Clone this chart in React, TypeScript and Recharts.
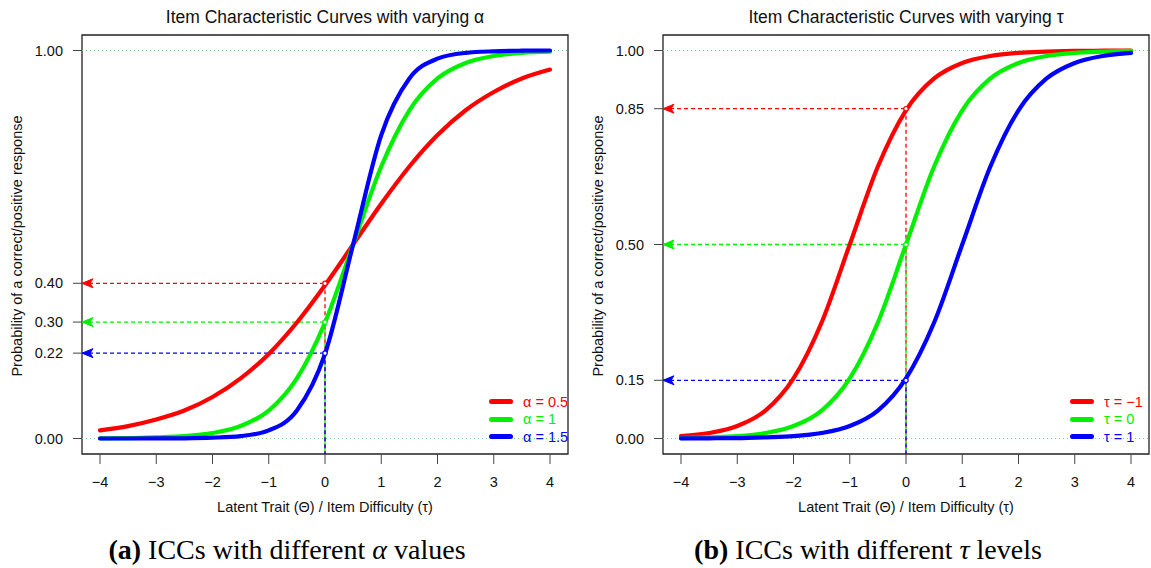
import {
  Legend,
  Line,
  LineChart,
  ReferenceArea,
  ReferenceDot,
  ReferenceLine,
  XAxis,
  YAxis,
} from "recharts";

// ability / difficulty grid shared by both panels
const THETA = [-4, -3.5, -3, -2.5, -2, -1.5, -1, -0.5, 0, 0.5, 1, 1.5, 2, 2.5, 3, 3.5, 4];

// panel (a): varying discrimination
const ALPHA_LOW = [0.021, 0.032, 0.049, 0.072, 0.107, 0.155, 0.218, 0.299, 0.395, 0.5, 0.605, 0.701, 0.782, 0.846, 0.893, 0.928, 0.951];
const ALPHA_MID = [0.0005, 0.001, 0.003, 0.006, 0.014, 0.032, 0.072, 0.155, 0.299, 0.5, 0.701, 0.846, 0.928, 0.968, 0.986, 0.994, 0.997];
const ALPHA_HIGH = [0, 0, 0.0001, 0.0005, 0.002, 0.006, 0.021, 0.072, 0.218, 0.5, 0.782, 0.928, 0.979, 0.994, 0.998, 0.9995, 1];
const ALPHA_LABELS = ["α = 0.5", "α = 1", "α = 1.5"];
const ALPHA_Y_TICKS = [0, 0.22, 0.3, 0.4, 1];
const ALPHA_MARKS = [0.4, 0.3, 0.22];

// panel (b): varying difficulty
const TAU_NEG = [0.006, 0.014, 0.032, 0.072, 0.155, 0.299, 0.5, 0.701, 0.846, 0.928, 0.968, 0.986, 0.994, 0.997, 0.999, 0.9995, 0.9998];
const TAU_ZERO = [0.001, 0.003, 0.006, 0.014, 0.032, 0.072, 0.155, 0.299, 0.5, 0.701, 0.846, 0.928, 0.968, 0.986, 0.994, 0.997, 0.999];
const TAU_POS = [0.0002, 0.0005, 0.001, 0.003, 0.006, 0.014, 0.032, 0.072, 0.155, 0.299, 0.5, 0.701, 0.846, 0.928, 0.968, 0.986, 0.994];
const TAU_LABELS = ["τ = −1", "τ = 0", "τ = 1"];
const TAU_Y_TICKS = [0, 0.15, 0.5, 0.85, 1];
const TAU_MARKS = [0.85, 0.5, 0.15];

const X_TICKS = [-4, -3, -2, -1, 0, 1, 2, 3, 4];
const X_LABEL = "Latent Trait (Θ) / Item Difficulty (τ)";
const Y_LABEL = "Probability of a correct/positive response";

const COLORS = ["#ff0000", "#00f000", "#0000ff"];
const X_DOMAIN: [number, number] = [-4.32, 4.32];
const Y_DOMAIN: [number, number] = [-0.04, 1.04];
const SANS = "'Liberation Sans', Arial, Helvetica, sans-serif";
const SERIF = "'Liberation Serif', 'Times New Roman', serif";
const FONT = 14.5;

type PanelProps = {
  left: number;
  width: number;
  plotLeft: number;
  series: number[][];
  labels: string[];
  yTicks: number[];
  marks: number[];
};

const arrowHead = (color: string) => (props: any) => {
  const { cx, cy } = props;
  return (
    <path
      d={`M${cx},${cy} L${cx + 11},${cy - 4.5} L${cx + 8},${cy} L${cx + 11},${cy + 4.5} Z`}
      fill={color}
      stroke={color}
      strokeWidth={1}
    />
  );
};

const legendContent = (labels: string[]) => () => (
  <div style={{ fontFamily: SANS, fontSize: FONT }}>
    {labels.map((label, i) => (
      <div key={label} style={{ display: "flex", alignItems: "center", height: 17.5, whiteSpace: "nowrap" }}>
        <span style={{ width: 24, height: 5, background: COLORS[i], borderRadius: 2.5 }} />
        <span style={{ marginLeft: 10, color: COLORS[i] }}>{label}</span>
      </div>
    ))}
  </div>
);

function Panel({ left, width, plotLeft, series, labels, yTicks, marks }: PanelProps) {
  const data = THETA.map((x, i) => ({ x, s0: series[0][i], s1: series[1][i], s2: series[2][i] }));
  const yAxisWidth = 60;
  return (
    <div style={{ position: "absolute", left, top: 0 }}>
      <LineChart
        width={width}
        height={568}
        data={data}
        margin={{ top: 35, right: width - plotLeft - 486, bottom: 74, left: plotLeft - yAxisWidth }}
      >
        <XAxis
          dataKey="x"
          type="number"
          domain={X_DOMAIN}
          ticks={X_TICKS}
          interval={0}
          allowDataOverflow
          axisLine={false}
          tickSize={10}
          tickMargin={13}
          height={40}
          tick={{ fontSize: FONT, fill: "#111" }}
          tickLine={{ stroke: "#444" }}
          tickFormatter={(v: number) => String(v).replace("-", "−")}
          label={{ value: X_LABEL, position: "bottom", offset: 8, fontSize: FONT, fill: "#111" }}
        />
        <YAxis
          type="number"
          domain={Y_DOMAIN}
          ticks={yTicks}
          interval={0}
          allowDataOverflow
          axisLine={false}
          width={yAxisWidth}
          tickSize={9}
          tickMargin={10}
          tick={{ fontSize: FONT, fill: "#111" }}
          tickLine={{ stroke: "#444" }}
          tickFormatter={(v: number) => v.toFixed(2)}
        />
        <ReferenceLine y={1} stroke="#66e066" strokeDasharray="1 3" strokeWidth={1} />
        <ReferenceLine y={0} stroke="#66e066" strokeDasharray="1 3" strokeWidth={1} />
        {marks.map((v, i) => (
          <ReferenceLine
            key={`v${i}`}
            segment={[{ x: 0, y: v }, { x: 0, y: Y_DOMAIN[0] }]}
            stroke={COLORS[i]}
            strokeDasharray="4 3"
            strokeWidth={1.3}
          />
        ))}
        {marks.map((v, i) => (
          <ReferenceLine
            key={`h${i}`}
            segment={[{ x: X_DOMAIN[0], y: v }, { x: 0, y: v }]}
            stroke={COLORS[i]}
            strokeDasharray="4 3"
            strokeWidth={1.3}
          />
        ))}
        <ReferenceArea
          x1={X_DOMAIN[0]}
          x2={X_DOMAIN[1]}
          y1={Y_DOMAIN[0]}
          y2={Y_DOMAIN[1]}
          fill="none"
          fillOpacity={0}
          stroke="#222"
          strokeWidth={1.3}
          ifOverflow="visible"
        />
        {series.map((_, i) => (
          <Line
            key={i}
            type="monotone"
            dataKey={`s${i}`}
            name={labels[i]}
            stroke={COLORS[i]}
            strokeWidth={4.2}
            strokeLinecap="round"
            dot={false}
            activeDot={false}
            isAnimationActive={false}
          />
        ))}
        {marks.map((v, i) => (
          <ReferenceDot
            key={`a${i}`}
            x={X_DOMAIN[0]}
            y={v}
            ifOverflow="visible"
            shape={arrowHead(COLORS[i])}
          />
        ))}
        {marks.map((v, i) => (
          <ReferenceDot key={`d${i}`} x={0} y={v} r={2.2} fill="#fff" stroke={COLORS[i]} strokeWidth={1.2} />
        ))}
        <Legend
          layout="horizontal"
          align="center"
          verticalAlign="middle"
          content={legendContent(labels)}
          wrapperStyle={{ left: plotLeft + 407, top: 393, width: "auto", height: "auto" }}
        />
      </LineChart>
    </div>
  );
}

export default function App() {
  return (
    <div
      style={{
        position: "absolute",
        left: 0,
        top: 0,
        width: 1151,
        height: 568,
        background: "#fff",
        fontFamily: SANS,
        overflow: "hidden",
      }}
    >
      <Panel
        left={0}
        width={575}
        plotLeft={82}
        series={[ALPHA_LOW, ALPHA_MID, ALPHA_HIGH]}
        labels={ALPHA_LABELS}
        yTicks={ALPHA_Y_TICKS}
        marks={ALPHA_MARKS}
      />
      <Panel
        left={575}
        width={576}
        plotLeft={88}
        series={[TAU_NEG, TAU_ZERO, TAU_POS]}
        labels={TAU_LABELS}
        yTicks={TAU_Y_TICKS}
        marks={TAU_MARKS}
      />
      <svg
        width={1151}
        height={568}
        style={{ position: "absolute", left: 0, top: 0, pointerEvents: "none" }}
      >
        <text x={325} y={23} textAnchor="middle" fontSize={17.5} fill="#111" fontFamily={SANS}>
          Item Characteristic Curves with varying α
        </text>
        <text x={906} y={23} textAnchor="middle" fontSize={17.5} fill="#111" fontFamily={SANS}>
          Item Characteristic Curves with varying τ
        </text>
        <text x={22} y={246} textAnchor="middle" fontSize={14.5} fill="#111" fontFamily={SANS} transform="rotate(-90 22 246)">
          {Y_LABEL}
        </text>
        <text x={603} y={246} textAnchor="middle" fontSize={14.5} fill="#111" fontFamily={SANS} transform="rotate(-90 603 246)">
          {Y_LABEL}
        </text>
        <text x={287} y={559} textAnchor="middle" fontSize={28} fill="#000" fontFamily={SERIF}>
          <tspan fontWeight="bold">(a)</tspan>
          <tspan>{" ICCs with different "}</tspan>
          <tspan fontStyle="italic">α</tspan>
          <tspan>{" values"}</tspan>
        </text>
        <text x={868} y={559} textAnchor="middle" fontSize={28} fill="#000" fontFamily={SERIF}>
          <tspan fontWeight="bold">(b)</tspan>
          <tspan>{" ICCs with different "}</tspan>
          <tspan fontStyle="italic">τ</tspan>
          <tspan>{" levels"}</tspan>
        </text>
      </svg>
    </div>
  );
}
